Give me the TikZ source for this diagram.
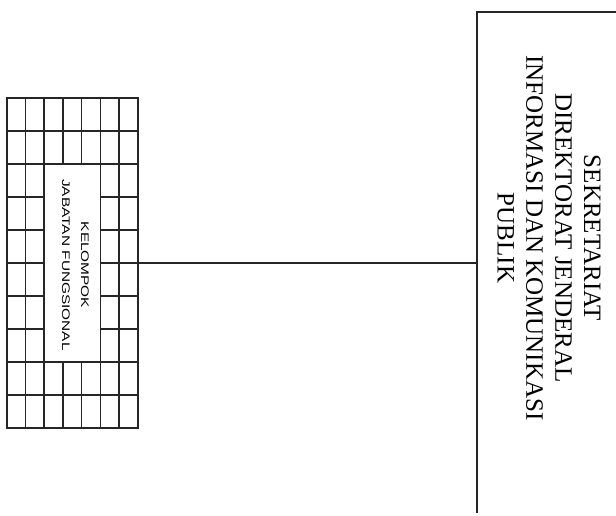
\documentclass[tikz,border=0pt]{standalone}
\usepackage{fontspec}
\setmainfont{Liberation Serif}
\newfontfamily\kjffont[FakeStretch=1.4]{Liberation Sans}
\usetikzlibrary{positioning,calc}
\tikzset{
  unit-grid/.style={minimum width=131pt,minimum height=330pt,inner sep=0pt},
  grid-line/.style={line width=1.6pt,draw=black!85},
  box-line/.style={line width=1.6pt,draw=black!85},
  link/.style={line width=1.3pt,draw=black!85},
  label-big/.style={rotate=-90,align=center,inner sep=0pt,
    font=\fontsize{25}{28.8}\selectfont},
  label-small/.style={rotate=-90,align=center,inner sep=0pt,
    font=\kjffont\fontsize{11}{19}\selectfont},
}

\begin{document}
\begin{tikzpicture}[x=1pt,y=-1pt]
  \useasboundingbox (0,0) rectangle (616,515);
  % kelompok jabatan fungsional
  \node[unit-grid] (kjf) at (72.5,263) {};
  \foreach \i in {1,2,5,6}
    \draw[grid-line] ($(kjf.north west)+(\i*18.714,0)$) -- ++(0,330);
  \foreach \i in {3,4} {
    \draw[grid-line] ($(kjf.north west)+(\i*18.714,0)$) -- ++(0,66);
    \draw[grid-line] ($(kjf.south west)+(\i*18.714,0)$) -- ++(0,-66);
  }
  \foreach \j in {1,2,8,9}
    \draw[grid-line] ($(kjf.north west)+(0,\j*33)$) -- ++(131,0);
  \foreach \j in {3,...,7} {
    \draw[grid-line] ($(kjf.north west)+(0,\j*33)$) -- ++(37.43,0);
    \draw[grid-line] ($(kjf.north east)+(0,\j*33)$) -- ++(-37.43,0);
  }
  \draw[grid-line] (kjf.north west) rectangle (kjf.south east);
  \node[label-small] (kjf-text) at (75.5,265) {KELOMPOK\\JABATAN FUNGSIONAL};

  % sekretariat
  \coordinate (sekre-nw) at (477,12);
  \coordinate (sekre-sw) at (477,513);
  \coordinate (sekre-ne) at (616,12);
  \draw[box-line] (sekre-sw) -- (sekre-nw) -- (sekre-ne);
  \node[label-big] (sekre) at (549,238)
    {SEKRETARIAT\\DIREKTORAT JENDERAL\\INFORMASI DAN KOMUNIKASI\\PUBLIK};

  \draw[link] (kjf.east) -- (kjf.east -| sekre-nw);
\end{tikzpicture}
\end{document}
